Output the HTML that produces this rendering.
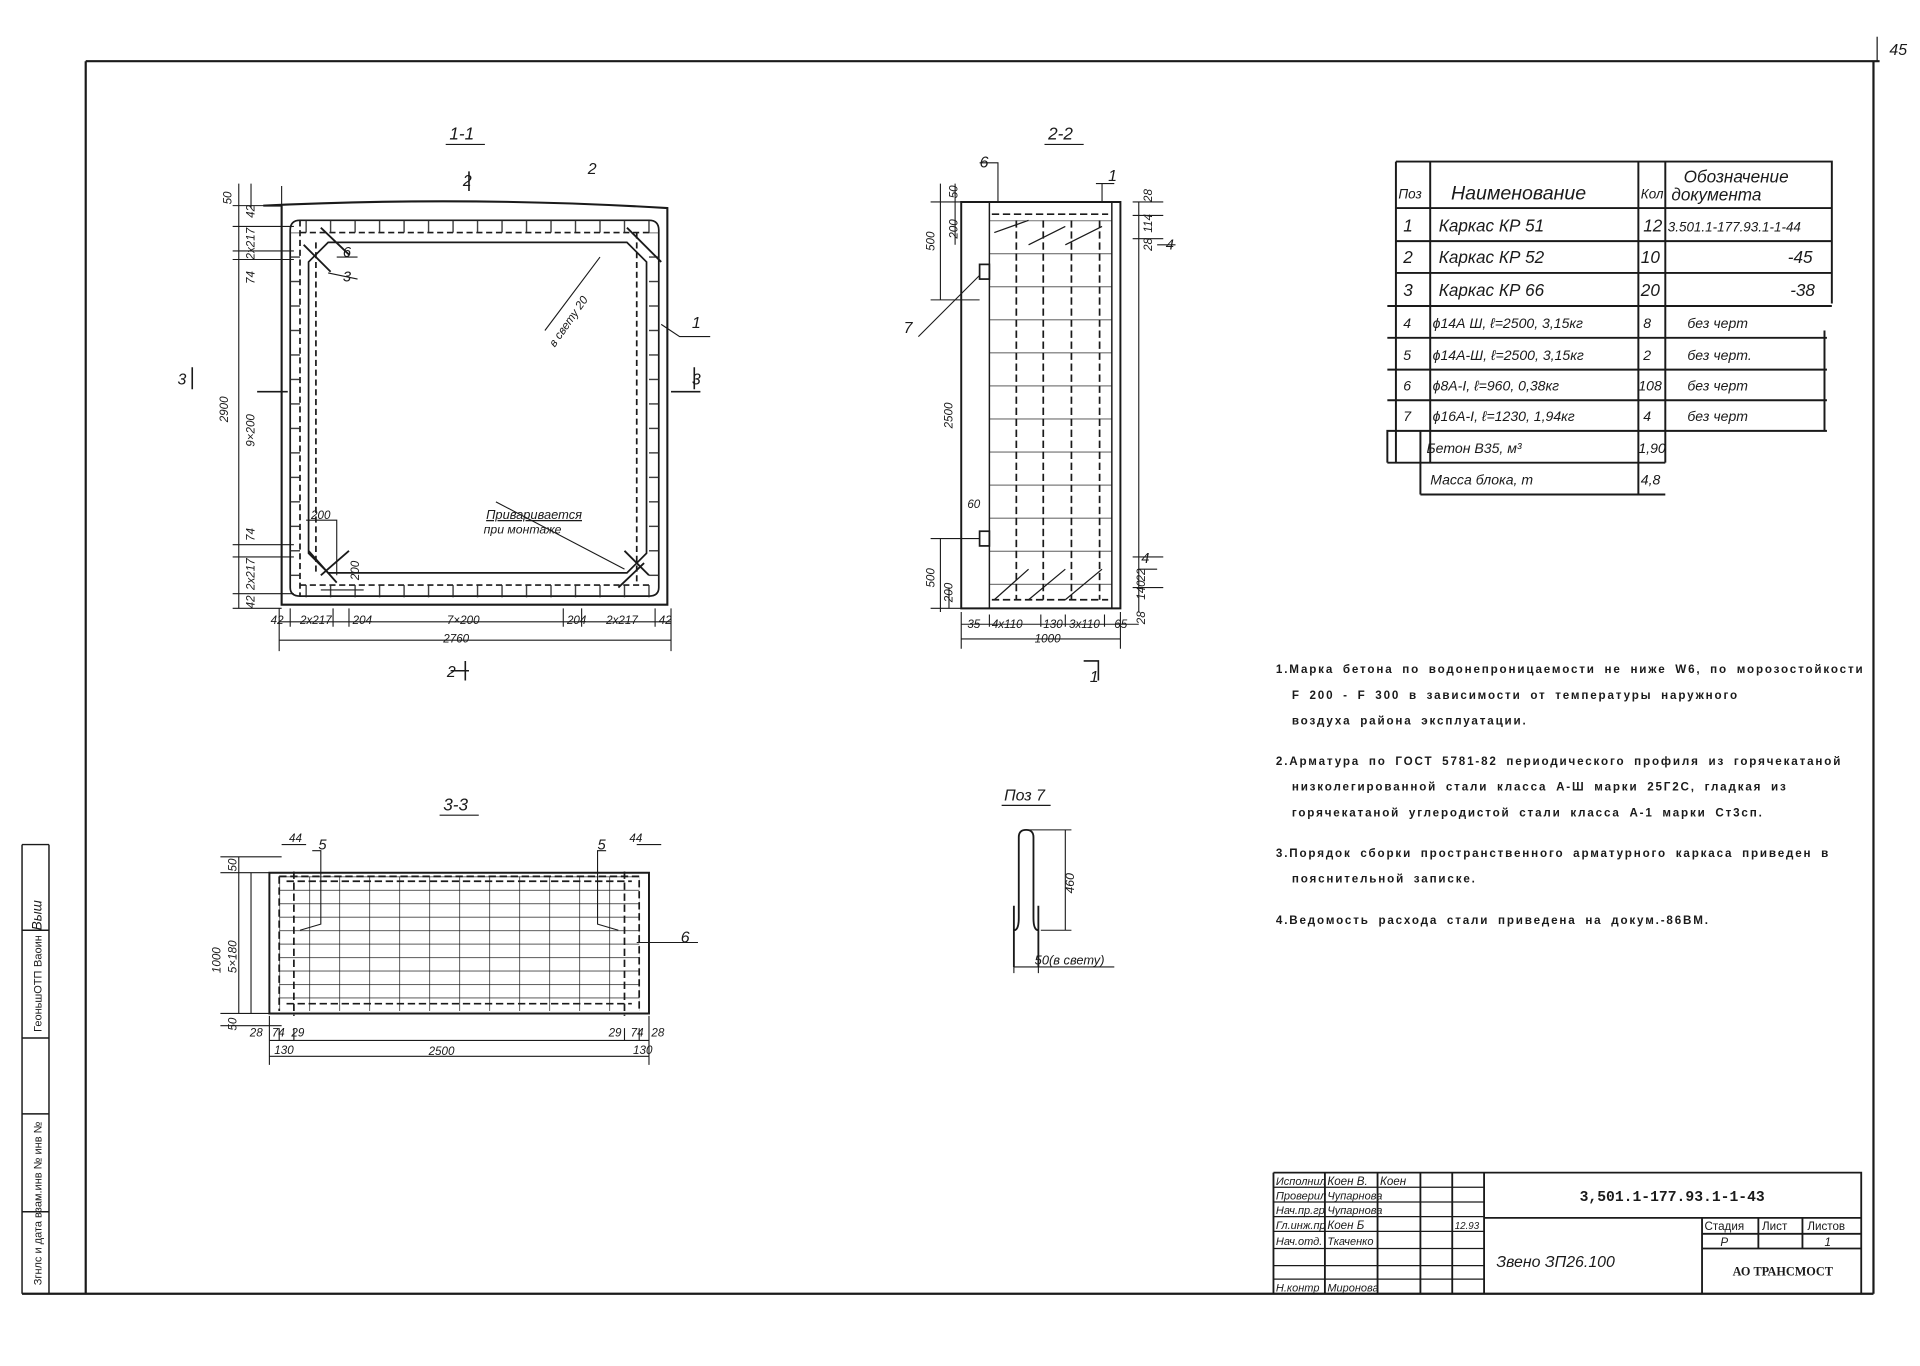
<!DOCTYPE html>
<html><head><meta charset="utf-8"><style>
html,body{margin:0;padding:0;background:#fff;}
svg{display:block;}
text{font-family:"Liberation Sans","DejaVu Sans",sans-serif;font-style:italic;fill:#1a1a1a;}
.n{font-style:normal;font-weight:bold;font-size:9.5px;letter-spacing:1.5px;word-spacing:3px;}
</style></head><body>
<svg width="1920" height="1366" viewBox="0 0 1568 1116" preserveAspectRatio="none" xmlns="http://www.w3.org/2000/svg">
<defs>
<pattern id="g33" x="228" y="716" width="24.5" height="11" patternUnits="userSpaceOnUse">
<path d="M0 0V11M0 0H24.5" stroke="#222" stroke-width="1.2" fill="none"/>
</pattern>
<pattern id="g22" x="808" y="180" width="100" height="27" patternUnits="userSpaceOnUse">
<path d="M0 0H100" stroke="#222" stroke-width="1.2" fill="none"/>
</pattern>
<pattern id="tick" x="0" y="0" width="20" height="20" patternUnits="userSpaceOnUse">
<path d="M10 0V20" stroke="#222" stroke-width="1"/>
</pattern>
<pattern id="tickv" x="0" y="0" width="20" height="20" patternUnits="userSpaceOnUse">
<path d="M0 10H20" stroke="#222" stroke-width="1"/>
</pattern>
</defs>
<g stroke="#1a1a1a" fill="none">
<path d="M70 50H1535M1530 50V1057M70 50V1057M18 1057H1530" stroke-width="1.8"/>
<path d="M1533 30V50" stroke-width="1"/>
<path d="M40 690V1057M18 690V1057M18 690H40M18 760H40M18 848H40M18 910H40M18 990H40" stroke-width="1.2"/>
</g>
<text x="1543" y="45" font-size="13">45</text>
<text transform="translate(34,1050) rotate(-90)" font-size="9" style="font-style:normal">Згнлс и дата взам.инв № инв №</text>
<text transform="translate(34,843) rotate(-90)" font-size="9" style="font-style:normal">ГеоньшОТП</text>
<text transform="translate(34,790) rotate(-90)" font-size="9" style="font-style:normal">Ваоин</text>
<text transform="translate(34,760) rotate(-90)" font-size="11">Выш</text>

<!-- ===== 1-1 ===== -->
<text x="367" y="114" font-size="14">1-1</text>
<path d="M364 118H396" stroke="#1a1a1a"/>
<g stroke="#1a1a1a" fill="none" stroke-width="1.4">
<path d="M215 168Q380 160 545 170V494H230V168Z" stroke-width="1.7"/>
<path d="M245 180H530Q538 180 538 188V480Q538 487 530 487H245Q237 487 237 480V188Q237 180 245 180Z"/>
<path d="M268 198H512L528 214V452L512 468H268L252 452V214Z"/>
<path d="M245 180V487M258 198V468" stroke-dasharray="5 3"/>
<path d="M245 190H530M245 478H530M520 190V478" stroke-dasharray="5 3"/>
<path d="M248 200L270 222M262 186L285 208M512 186L540 214M526 460L505 480M252 450L275 476M262 470L285 450M510 450L530 470" stroke-width="1.5"/>
<path d="M195 150V497M205 150V170M230 152V200M190 168H230M190 497H230M190 185H240M190 205H240M190 212H240M190 445H240M190 455H240M190 485H240" stroke-width="0.9"/>
<path d="M228 497V532M548 497V532M228 508H548M228 523H548M237 497V512M272 497V512M285 497V512M460 497V512M475 497V512M535 497V512" stroke-width="0.9"/>
<path d="M210 320H235M548 320H572M157 300V318M567 300V318M383 140V156M380 540V556M368 548H383" stroke-width="1.3"/>
<path d="M540 265L555 275H580M275 210L292 210M268 223L292 228M445 270L490 210" stroke-width="0.9"/>
<path d="M405 410L510 465M250 425H275L275 470M262 482H297" stroke-width="0.9"/>
</g>
<rect x="237" y="180" width="301" height="10" fill="url(#tick)"/>
<rect x="237" y="478" width="301" height="10" fill="url(#tick)"/>
<rect x="237" y="190" width="8" height="290" fill="url(#tickv)"/>
<rect x="530" y="190" width="8" height="290" fill="url(#tickv)"/>
<g font-size="9.5">
<text x="480" y="142" font-size="13">2</text>
<text x="378" y="152" font-size="13">2</text>
<text x="280" y="210" font-size="12">6</text>
<text x="280" y="230" font-size="12">3</text>
<text x="565" y="268" font-size="13">1</text>
<text x="145" y="314" font-size="13">3</text>
<text x="565" y="314" font-size="13">3</text>
<text transform="translate(453,284) rotate(-55)">в свету 20</text>
<text x="397" y="424" font-size="10.5" text-decoration="underline">Приваривается</text>
<text x="395" y="436" font-size="10">при монтаже</text>
<text x="254" y="424">200</text>
<text transform="translate(293,474) rotate(-90)">200</text>
<text transform="translate(189,167) rotate(-90)">50</text>
<text transform="translate(208,178) rotate(-90)">42</text>
<text transform="translate(208,212) rotate(-90)">2х217</text>
<text transform="translate(208,232) rotate(-90)">74</text>
<text transform="translate(208,365) rotate(-90)">9×200</text>
<text transform="translate(208,442) rotate(-90)">74</text>
<text transform="translate(208,482) rotate(-90)">2х217</text>
<text transform="translate(208,497) rotate(-90)">42</text>
<text transform="translate(186,345) rotate(-90)">2900</text>
<text x="221" y="510">42</text><text x="245" y="510">2х217</text><text x="288" y="510">204</text>
<text x="365" y="510">7×200</text><text x="463" y="510">204</text><text x="495" y="510">2х217</text><text x="538" y="510">42</text>
<text x="362" y="525">2760</text>
<text x="365" y="553" font-size="13">2</text>
</g>

<!-- ===== 2-2 ===== -->
<text x="856" y="114" font-size="14">2-2</text>
<path d="M853 118H885" stroke="#1a1a1a"/>
<rect x="808" y="180" width="100" height="310" fill="url(#g22)"/>
<g stroke="#1a1a1a" fill="none" stroke-width="1.4">
<path d="M785 165H915V497H785Z" stroke-width="1.6"/>
<path d="M808 165V497M908 165V497" stroke-width="1.2"/>
<path d="M830 180V490M852 180V490M875 180V490M898 180V490" stroke-dasharray="6 3"/>
<path d="M810 175H905M810 490H905" stroke-dasharray="6 3"/>
<path d="M812 190L840 180M840 200L870 185M870 200L900 185M812 490L840 465M840 490L870 465M870 490L900 465" stroke-width="1"/>
<rect x="800" y="216" width="8" height="12"/><rect x="800" y="434" width="8" height="12"/>
<path d="M768 150V245M768 440V500M760 165H800M760 245H800M760 440H800M760 497H800M780 150V200M775 480V497" stroke-width="0.9"/>
<path d="M785 510H930M785 522H915M785 500V530M915 500V530M808 502V512M850 502V512M870 502V512M902 502V512M930 165V500M925 165H950M925 176H950M925 195H950M925 455H950M925 480H950" stroke-width="0.9"/>
<path d="M800 133H815V165M910 150H895M900 150V165M945 200H960M750 275L800 225M930 465H945" stroke-width="0.9"/>
<path d="M885 540H897V548M897 540V556" stroke-width="1.3"/>
</g>
<g font-size="9.5">
<text x="800" y="137" font-size="13">6</text>
<text x="905" y="148" font-size="13">1</text>
<text x="952" y="204" font-size="12">4</text>
<text x="932" y="460" font-size="12">4</text>
<text x="738" y="272" font-size="13">7</text>
<text x="890" y="557" font-size="13">1</text>
<text transform="translate(763,205) rotate(-90)">500</text>
<text transform="translate(782,162) rotate(-90)">50</text>
<text transform="translate(782,195) rotate(-90)">200</text>
<text transform="translate(778,350) rotate(-90)">2500</text>
<text x="790" y="415">60</text>
<text transform="translate(763,480) rotate(-90)">500</text>
<text transform="translate(778,492) rotate(-90)">200</text>
<text transform="translate(941,165) rotate(-90)">28</text>
<text transform="translate(941,190) rotate(-90)">114</text>
<text transform="translate(941,205) rotate(-90)">28</text>
<text transform="translate(935,475) rotate(-90)">22</text>
<text transform="translate(935,490) rotate(-90)">140</text>
<text transform="translate(935,510) rotate(-90)">28</text>
<text x="790" y="513">35</text><text x="810" y="513">4х110</text><text x="852" y="513">130</text><text x="873" y="513">3х110</text><text x="910" y="513">65</text>
<text x="845" y="525">1000</text>
</g>

<!-- ===== 3-3 ===== -->
<text x="362" y="662" font-size="14">3-3</text>
<path d="M359 666H391" stroke="#1a1a1a"/>
<rect x="228" y="716" width="294" height="110" fill="url(#g33)"/>
<g stroke="#1a1a1a" fill="none" stroke-width="1.4">
<path d="M220 713H530V828H220Z" stroke-width="1.6"/>
<path d="M228 716H522V826M228 716V826M234 720H516M234 820H516M240 712V830M510 712V830" stroke-dasharray="6 3"/>
<path d="M195 700V828M180 700H230M180 713H230M180 828H230M180 838H230M205 713V828" stroke-width="0.9"/>
<path d="M220 830V870M530 830V870M220 850H530M220 863H530M228 840V850M240 840V850M510 840V850M522 840V850" stroke-width="0.9"/>
<path d="M230 690H250M520 690H540M255 695H262V755L245 760M495 695H488V755L505 760M520 770H570" stroke-width="0.9"/>
</g>
<g font-size="9.5">
<text x="236" y="688">44</text><text x="260" y="694" font-size="12">5</text>
<text x="488" y="694" font-size="12">5</text><text x="514" y="688">44</text>
<text x="556" y="770" font-size="13">6</text>
<text transform="translate(193,712) rotate(-90)">50</text>
<text transform="translate(180,795) rotate(-90)">1000</text>
<text transform="translate(193,795) rotate(-90)">5×180</text>
<text transform="translate(193,842) rotate(-90)">50</text>
<text x="204" y="847">28</text><text x="222" y="847">74</text><text x="238" y="847">29</text>
<text x="497" y="847">29</text><text x="515" y="847">74</text><text x="532" y="847">28</text>
<text x="224" y="861">130</text><text x="517" y="861">130</text>
<text x="350" y="862">2500</text>
</g>

<!-- ===== Поз 7 ===== -->
<text x="820" y="654" font-size="13">Поз 7</text>
<path d="M818 658H858" stroke="#1a1a1a"/>
<g stroke="#1a1a1a" fill="none" stroke-width="1.5">
<path d="M832 750V684Q832 678 838 678Q844 678 844 684V750M828 740V790M848 740V790M832 750Q832 760 828 760M844 750Q844 760 848 760"/>
<path d="M870 678V760M840 678H875M850 760H875M828 795V790M848 795V790M828 790H910" stroke-width="0.9"/>
</g>
<text transform="translate(877,730) rotate(-90)" font-size="10">460</text>
<text x="845" y="788" font-size="10.5">50(в свету)</text>

<!-- ===== table ===== -->
<g stroke="#1a1a1a" fill="none" stroke-width="1.6">
<path d="M1140 132H1496V248M1140 132V378M1133 378V352H1490V270M1140 170H1496M1140 197H1496M1140 223H1496M1133 250H1496M1133 276H1492M1133 302H1492M1133 327H1492M1133 352H1492M1133 378H1360M1160 404H1360M1168 132V378M1160 352V404M1338 132V404M1360 132V378"/>
</g>
<g font-size="14">
<text x="1142" y="162" font-size="11">Поз</text>
<text x="1185" y="163" font-size="16">Наименование</text>
<text x="1340" y="162" font-size="11">Кол</text>
<text x="1375" y="149" font-size="14">Обозначение</text>
<text x="1365" y="164" font-size="14">документа</text>
<text x="1146" y="189">1</text><text x="1175" y="189">Каркас КР 51</text><text x="1342" y="189">12</text><text x="1362" y="189" font-size="11">3.501.1-177.93.1-1-44</text>
<text x="1146" y="215">2</text><text x="1175" y="215">Каркас КР 52</text><text x="1340" y="215">10</text><text x="1460" y="215">-45</text>
<text x="1146" y="242">3</text><text x="1175" y="242">Каркас КР 66</text><text x="1340" y="242">20</text><text x="1462" y="242">-38</text>
<g font-size="11.5">
<text x="1146" y="268">4</text><text x="1170" y="268">ϕ14А Ш, ℓ=2500, 3,15кг</text><text x="1342" y="268">8</text><text x="1378" y="268">без черт</text>
<text x="1146" y="294">5</text><text x="1170" y="294">ϕ14А-Ш, ℓ=2500, 3,15кг</text><text x="1342" y="294">2</text><text x="1378" y="294">без черт.</text>
<text x="1146" y="319">6</text><text x="1170" y="319">ϕ8А-I, ℓ=960, 0,38кг</text><text x="1338" y="319">108</text><text x="1378" y="319">без черт</text>
<text x="1146" y="344">7</text><text x="1170" y="344">ϕ16А-I, ℓ=1230, 1,94кг</text><text x="1342" y="344">4</text><text x="1378" y="344">без черт</text>
<text x="1165" y="370">Бетон В35, м³</text><text x="1338" y="370">1,90</text>
<text x="1168" y="396">Масса блока, т</text><text x="1340" y="396">4,8</text>
</g>
</g>

<!-- ===== notes ===== -->
<g>
<text class="n" x="1042" y="550">1.Марка бетона по водонепроницаемости не ниже W6, по морозостойкости</text>
<text class="n" x="1055" y="571">F 200 - F 300 в зависимости от            температуры наружного</text>
<text class="n" x="1055" y="592">воздуха района эксплуатации.</text>
<text class="n" x="1042" y="625">2.Арматура по ГОСТ 5781-82 периодического профиля из горячекатаной</text>
<text class="n" x="1055" y="646">низколегированной стали класса А-Ш марки 25Г2С, гладкая из</text>
<text class="n" x="1055" y="667">горячекатаной углеродистой стали класса А-1 марки Ст3сп.</text>
<text class="n" x="1042" y="700">3.Порядок сборки пространственного арматурного каркаса приведен в</text>
<text class="n" x="1055" y="721">пояснительной записке.</text>
<text class="n" x="1042" y="755">4.Ведомость расхода стали приведена на докум.-86ВМ.</text>
</g>

<!-- ===== title block ===== -->
<g stroke="#1a1a1a" fill="none" stroke-width="1.5">
<path d="M1040 958H1520V1057M1040 958V1057M1212 958V1057M1082 958V1057M1125 958V1057M1160 958V1057M1186 958V1057"/>
<path d="M1040 970H1212M1040 982H1212M1040 994H1212M1040 1006H1212M1040 1020H1212M1040 1034H1212M1040 1045H1212" stroke-width="1"/>
<path d="M1212 995H1520M1390 995V1057M1390 1008H1520M1390 1020H1520M1436 995V1020M1472 995V1020"/>
</g>
<g font-size="9.5">
<text x="1042" y="968" font-size="9">Исполнил</text><text x="1084" y="968">Коен В.</text><text x="1127" y="968">Коен</text>
<text x="1042" y="980" font-size="9">Проверил</text><text x="1084" y="980" font-size="9">Чупарнова</text>
<text x="1042" y="992" font-size="9">Нач.пр.гр</text><text x="1084" y="992" font-size="9">Чупарнова</text>
<text x="1042" y="1004" font-size="9">Гл.инж.пр</text><text x="1084" y="1004">Коен Б</text><text x="1188" y="1004" font-size="8">12.93</text>
<text x="1042" y="1017" font-size="9">Нач.отд.</text><text x="1084" y="1017" font-size="9">Ткаченко</text>
<text x="1042" y="1055" font-size="9">Н.контр</text><text x="1084" y="1055" font-size="9">Миронова</text>
<text x="1290" y="981" font-size="12" style="font-style:normal;font-family:'Liberation Mono',monospace;font-weight:bold">3,501.1-177.93.1-1-43</text>
<text x="1222" y="1035" font-size="13">Звено ЗП26.100</text>
<text x="1392" y="1005" font-size="9.5" style="font-style:normal">Стадия</text><text x="1439" y="1005" font-size="9.5" style="font-style:normal">Лист</text><text x="1476" y="1005" font-size="9.5" style="font-style:normal">Листов</text>
<text x="1405" y="1018">Р</text><text x="1490" y="1018">1</text>
<text x="1415" y="1042" font-size="10" style="font-style:normal;font-family:'Liberation Serif',serif;font-weight:bold">АО   ТРАНСМОСТ</text>
</g>
</svg>
</body></html>
